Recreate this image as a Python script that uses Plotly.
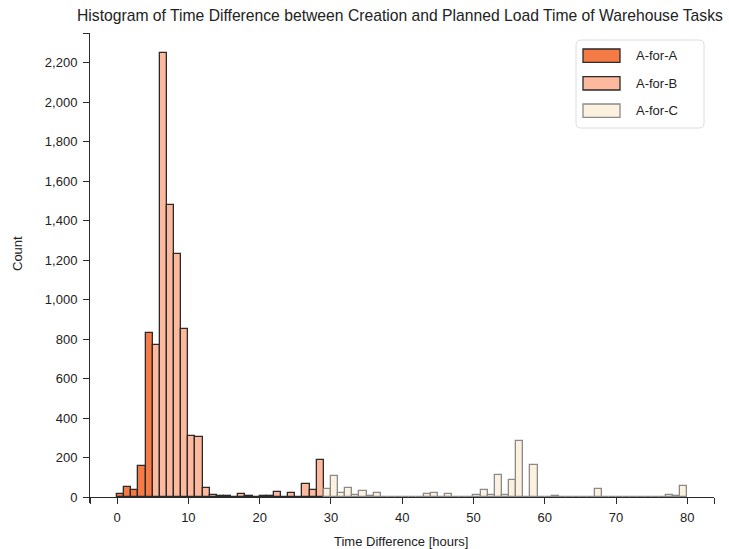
import numpy as np
import plotly.graph_objects as go

# Hourly bins (left edge, in hours) and task counts per channel
a_bins = list(range(0, 5))
a_counts = [17, 51, 34, 159, 832]

b_bins = list(range(5, 29))
b_counts = [771, 2248, 1479, 1232, 852, 309, 306, 45, 12, 3, 3, 2,
            17, 8, 2, 3, 3, 24, 2, 19, 1, 66, 35, 189]

c_bins = list(range(29, 80))
c_counts = [42, 106, 20, 46, 10, 29, 4, 19, 1, 1, 0, 0, 0, 0, 15, 20, 0, 17,
            0, 0, 0, 13, 34, 13, 110, 13, 88, 282, 0, 162, 0, 2, 3, 0, 0, 0,
            0, 0, 42, 0, 0, 0, 0, 0, 0, 0, 0, 0, 12, 6, 57]

series_names = ["A-for-A", "A-for-B", "A-for-C"]
fill_colors = ["#f67a45", "#fcb99d", "#fcf0de"]
line_colors = ["#2a2a2a", "#2a2a2a", "#8a8a8a"]

x_ticks = [0, 10, 20, 30, 40, 50, 60, 70, 80]
y_ticks = list(range(0, 2201, 200))

W, H = 729, 549
L, R, T, B = 90, 714, 33, 503
x_range = [-3.8, 83.75]
y_range = [-30, 2350]
axis_col = "#2a2a2a"
font_family = "Liberation Sans, Arial, Helvetica, sans-serif"


def px_x(p):
    return (p - L) / (R - L)


def px_y(p):
    return (B - p) / (B - T)


fig = go.Figure()
for bins, counts, name, fc, lc in zip([a_bins, b_bins, c_bins],
                                      [a_counts, b_counts, c_counts],
                                      series_names, fill_colors, line_colors):
    fig.add_trace(go.Bar(
        x=np.array(bins) + 0.5, y=counts, width=1.0, name=name,
        marker=dict(color=fc, line=dict(color=lc, width=1.3)),
        showlegend=False,
    ))

# x axis sits on the zero count line
x_pos = (0 - y_range[0]) / (y_range[1] - y_range[0])

fig.update_layout(
    width=W, height=H, autosize=False,
    margin=dict(l=L, r=W - R, t=T, b=H - B, pad=0),
    plot_bgcolor="white", paper_bgcolor="white",
    barmode="overlay", bargap=0,
    font=dict(family=font_family, size=13, color="#222"),
    showlegend=False,
    xaxis=dict(range=x_range, anchor="free", position=x_pos,
               showline=True, linecolor=axis_col, linewidth=1,
               ticks="outside", ticklen=6, tickcolor=axis_col,
               tickvals=[x_range[0]] + x_ticks + [x_range[1]],
               ticktext=[""] + [str(v) for v in x_ticks] + [""],
               ticklabelstandoff=2,
               showgrid=False, zeroline=False, tickfont=dict(size=13)),
    yaxis=dict(range=y_range, showline=True, linecolor=axis_col, linewidth=1,
               ticks="outside", ticklen=6, tickcolor=axis_col,
               tickvals=y_ticks + [y_range[1]],
               ticktext=[f"{v:,}" for v in y_ticks] + [""],
               ticklabelstandoff=3,
               showgrid=False, zeroline=False, tickfont=dict(size=13)),
)

annotations = [
    dict(text="Histogram of Time Difference between Creation and Planned Load Time of Warehouse Tasks",
         x=px_x(400), y=px_y(15), xref="paper", yref="paper",
         xanchor="center", yanchor="middle", showarrow=False,
         font=dict(size=15.7, color="#222")),
    dict(text="Time Difference [hours]", x=px_x(401), y=px_y(541),
         xref="paper", yref="paper", xanchor="center", yanchor="middle",
         showarrow=False, font=dict(size=13)),
    dict(text="Count", x=px_x(18), y=px_y(254), textangle=-90,
         xref="paper", yref="paper", xanchor="center", yanchor="middle",
         showarrow=False, font=dict(size=13)),
]

# Legend box with rounded corners
bx0, bx1, by0, by1, r = 576, 704, 40, 128, 5
rx, ry = r / (R - L), r / (B - T)
X0, X1, Y0, Y1 = px_x(bx0), px_x(bx1), px_y(by1), px_y(by0)
path = (f"M{X0 + rx},{Y0} L{X1 - rx},{Y0} Q{X1},{Y0} {X1},{Y0 + ry} "
        f"L{X1},{Y1 - ry} Q{X1},{Y1} {X1 - rx},{Y1} L{X0 + rx},{Y1} "
        f"Q{X0},{Y1} {X0},{Y1 - ry} L{X0},{Y0 + ry} Q{X0},{Y0} {X0 + rx},{Y0} Z")
shapes = [dict(type="path", path=path, xref="paper", yref="paper",
               line=dict(color="#dcdcdc", width=1), fillcolor="white")]

row_centers = [55.7, 83.3, 110.7]
for name, fc, lc, cy in zip(series_names, fill_colors, line_colors, row_centers):
    shapes.append(dict(type="rect", xref="paper", yref="paper",
                       x0=px_x(583), x1=px_x(620), y0=px_y(cy + 6.7), y1=px_y(cy - 6.7),
                       fillcolor=fc, line=dict(color=lc, width=1.3)))
    annotations.append(dict(text=name, x=px_x(634), y=px_y(cy), xref="paper", yref="paper",
                            xanchor="left", yanchor="middle", showarrow=False,
                            font=dict(size=13)))

fig.update_layout(shapes=shapes, annotations=annotations)
fig.write_html("out.html")
